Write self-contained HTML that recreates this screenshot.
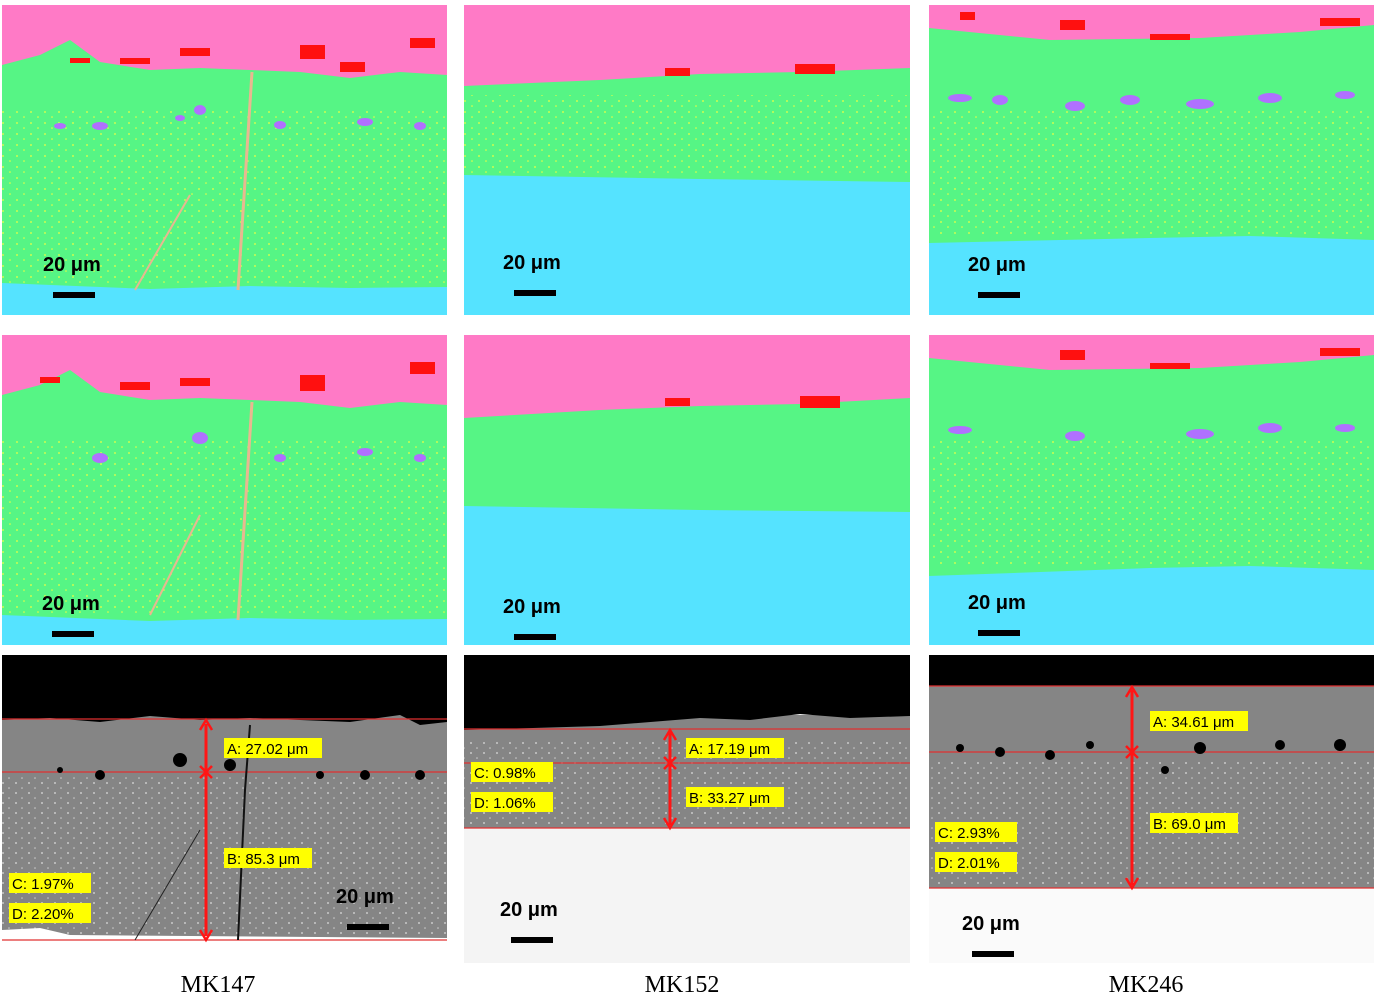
<!DOCTYPE html>
<html><head><style>
body{margin:0;background:#fff;width:1375px;height:1002px;overflow:hidden}
svg{display:block}
.sb{font-family:"Liberation Sans",sans-serif;font-weight:bold;font-size:20px;fill:#000}
.lb{font-family:"Liberation Sans",sans-serif;font-size:15px;fill:#000}
.cap{font-family:"Liberation Serif",serif;font-size:24px;fill:#000}
</style></head><body>
<svg width="1375" height="1002" viewBox="0 0 1375 1002">
<defs>
<pattern id="dots" width="14" height="11" patternUnits="userSpaceOnUse">
<circle cx="3" cy="2" r="0.9" fill="#eeff40"/><circle cx="10" cy="7" r="0.8" fill="#eeff40"/>
</pattern>
<pattern id="wd" width="13" height="10" patternUnits="userSpaceOnUse">
<circle cx="3" cy="3" r="0.9" fill="#ddd"/><circle cx="9" cy="8" r="0.8" fill="#ccc"/>
</pattern>
</defs>
<!-- Row 1 -->
<g>
<rect x="2" y="5" width="445" height="310" fill="#55e3ff"/>
<path d="M2,5H447V287L350,288L250,286L150,289L2,283Z" fill="#56f585"/>
<rect x="2" y="110" width="445" height="175" fill="url(#dots)"/>
<path d="M2,5H447V75L400,72L350,78L300,72L250,70L200,68L150,70L100,62L70,40L60,45L40,55L2,65Z" fill="#ff7ac6"/>
<path d="M252,72L238,290" stroke="#e8b890" stroke-width="3" fill="none"/>
<path d="M190,195L135,290" stroke="#e8b890" stroke-width="2" fill="none"/>
<g fill="#ff1010"><rect x="120" y="58" width="30" height="6"/><rect x="180" y="48" width="30" height="8"/><rect x="300" y="45" width="25" height="14"/><rect x="340" y="62" width="25" height="10"/><rect x="410" y="38" width="25" height="10"/><rect x="70" y="58" width="20" height="5"/></g>
<g fill="#b070ff"><ellipse cx="100" cy="126" rx="8" ry="4"/><ellipse cx="60" cy="126" rx="6" ry="3"/><ellipse cx="200" cy="110" rx="6" ry="5"/><ellipse cx="280" cy="125" rx="6" ry="4"/><ellipse cx="365" cy="122" rx="8" ry="4"/><ellipse cx="420" cy="126" rx="6" ry="4"/><ellipse cx="180" cy="118" rx="5" ry="3"/></g>
<text class="sb" x="43" y="271">20 μm</text><rect x="53" y="292" width="42" height="6" fill="#000"/>
</g>
<g>
<rect x="464" y="5" width="446" height="310" fill="#55e3ff"/>
<path d="M464,5H910V182L700,179L464,175Z" fill="#56f585"/>
<rect x="464" y="95" width="446" height="80" fill="url(#dots)"/>
<path d="M464,5H910V68L800,72L700,74L600,80L464,86Z" fill="#ff7ac6"/>
<g fill="#ff1010"><rect x="665" y="68" width="25" height="8"/><rect x="795" y="64" width="40" height="10"/></g>
<text class="sb" x="503" y="269">20 μm</text><rect x="514" y="290" width="42" height="6" fill="#000"/>
</g>
<g>
<rect x="929" y="5" width="445" height="310" fill="#55e3ff"/>
<path d="M929,5H1374V240L1250,236L1150,238L929,243Z" fill="#56f585"/>
<rect x="929" y="110" width="445" height="125" fill="url(#dots)"/>
<path d="M929,5H1374V25L1300,32L1200,38L1050,40L929,28Z" fill="#ff7ac6"/>
<g fill="#ff1010"><rect x="1060" y="20" width="25" height="10"/><rect x="1150" y="34" width="40" height="6"/><rect x="1320" y="18" width="40" height="8"/><rect x="960" y="12" width="15" height="8"/></g>
<g fill="#b070ff"><ellipse cx="960" cy="98" rx="12" ry="4"/><ellipse cx="1000" cy="100" rx="8" ry="5"/><ellipse cx="1075" cy="106" rx="10" ry="5"/><ellipse cx="1130" cy="100" rx="10" ry="5"/><ellipse cx="1200" cy="104" rx="14" ry="5"/><ellipse cx="1270" cy="98" rx="12" ry="5"/><ellipse cx="1345" cy="95" rx="10" ry="4"/></g>
<text class="sb" x="968" y="271">20 μm</text><rect x="978" y="292" width="42" height="6" fill="#000"/>
</g>
<!-- Row 2 -->
<g>
<rect x="2" y="335" width="445" height="310" fill="#55e3ff"/>
<path d="M2,335H447V619L350,620L250,618L150,621L2,615Z" fill="#56f585"/>
<rect x="2" y="440" width="445" height="175" fill="url(#dots)"/>
<path d="M2,335H447V405L400,402L350,408L300,402L250,400L200,398L150,400L100,392L70,370L60,375L40,385L2,395Z" fill="#ff7ac6"/>
<path d="M252,402L238,620" stroke="#e8b890" stroke-width="3" fill="none"/>
<path d="M200,515L150,615" stroke="#e8b890" stroke-width="2" fill="none"/>
<g fill="#ff1010"><rect x="120" y="382" width="30" height="8"/><rect x="180" y="378" width="30" height="8"/><rect x="300" y="375" width="25" height="16"/><rect x="410" y="362" width="25" height="12"/><rect x="40" y="377" width="20" height="6"/></g>
<g fill="#b070ff"><ellipse cx="100" cy="458" rx="8" ry="5"/><ellipse cx="200" cy="438" rx="8" ry="6"/><ellipse cx="280" cy="458" rx="6" ry="4"/><ellipse cx="365" cy="452" rx="8" ry="4"/><ellipse cx="420" cy="458" rx="6" ry="4"/></g>
<text class="sb" x="42" y="610">20 μm</text><rect x="52" y="631" width="42" height="6" fill="#000"/>
</g>
<g>
<rect x="464" y="335" width="446" height="310" fill="#55e3ff"/>
<path d="M464,335H910V512L700,510L464,506Z" fill="#56f585"/>
<path d="M464,335H910V398L800,404L700,406L600,410L464,418Z" fill="#ff7ac6"/>
<g fill="#ff1010"><rect x="665" y="398" width="25" height="8"/><rect x="800" y="396" width="40" height="12"/></g>
<text class="sb" x="503" y="613">20 μm</text><rect x="514" y="634" width="42" height="6" fill="#000"/>
</g>
<g>
<rect x="929" y="335" width="445" height="310" fill="#55e3ff"/>
<path d="M929,335H1374V570L1250,566L1150,568L929,576Z" fill="#56f585"/>
<rect x="929" y="440" width="445" height="125" fill="url(#dots)"/>
<path d="M929,335H1374V355L1300,362L1200,368L1050,370L929,358Z" fill="#ff7ac6"/>
<g fill="#ff1010"><rect x="1060" y="350" width="25" height="10"/><rect x="1150" y="363" width="40" height="6"/><rect x="1320" y="348" width="40" height="8"/></g>
<g fill="#b070ff"><ellipse cx="960" cy="430" rx="12" ry="4"/><ellipse cx="1075" cy="436" rx="10" ry="5"/><ellipse cx="1200" cy="434" rx="14" ry="5"/><ellipse cx="1270" cy="428" rx="12" ry="5"/><ellipse cx="1345" cy="428" rx="10" ry="4"/></g>
<text class="sb" x="968" y="609">20 μm</text><rect x="978" y="630" width="42" height="6" fill="#000"/>
</g>
<!-- Row 3 -->
<g>
<rect x="2" y="655" width="445" height="290" fill="#858585"/>
<rect x="2" y="775" width="445" height="160" fill="url(#wd)"/>
<path d="M2,655H447V722L420,725L400,715L350,722L300,720L250,718L200,720L150,716L100,722L50,718L2,720Z" fill="#000"/>
<path d="M2,930L40,928L70,935L447,938V945H2Z" fill="#fff"/>
<line x1="2" y1="719" x2="447" y2="719" stroke="#e03030" stroke-width="1.2"/>
<line x1="2" y1="772" x2="447" y2="772" stroke="#e03030" stroke-width="1.2"/>
<line x1="2" y1="940" x2="447" y2="940" stroke="#e03030" stroke-width="1.2"/>
<path d="M250,725L245,790L238,940" stroke="#111" stroke-width="2" fill="none"/>
<path d="M200,830L135,940" stroke="#222" stroke-width="1" fill="none"/>
<g fill="#000"><circle cx="100" cy="775" r="5"/><circle cx="180" cy="760" r="7"/><circle cx="230" cy="765" r="6"/><circle cx="320" cy="775" r="4"/><circle cx="365" cy="775" r="5"/><circle cx="420" cy="775" r="5"/><circle cx="60" cy="770" r="3"/></g>
<line x1="206" y1="724" x2="206" y2="936" stroke="#ff1515" stroke-width="3"/>
<path d="M200,730L206,720L212,730M200,930L206,940L212,930M200,766L212,778M212,766L200,778" stroke="#ff1515" stroke-width="2.5" fill="none"/>
<rect x="224" y="738" width="98" height="20" fill="#ffff00"/><text class="lb" x="227" y="754">A: 27.02 μm</text>
<rect x="224" y="848" width="88" height="20" fill="#ffff00"/><text class="lb" x="227" y="864">B: 85.3 μm</text>
<rect x="9" y="873" width="82" height="20" fill="#ffff00"/><text class="lb" x="12" y="889">C: 1.97%</text>
<rect x="9" y="903" width="82" height="20" fill="#ffff00"/><text class="lb" x="12" y="919">D: 2.20%</text>
<text class="sb" x="336" y="903">20 μm</text><rect x="347" y="924" width="42" height="6" fill="#000"/>
</g>
<g>
<rect x="464" y="655" width="446" height="308" fill="#f4f4f4"/>
<rect x="464" y="715" width="446" height="113" fill="#858585"/>
<rect x="464" y="740" width="446" height="86" fill="url(#wd)"/>
<path d="M464,655H910V716L850,718L800,714L750,720L700,718L600,726L464,730Z" fill="#000"/>
<line x1="464" y1="729" x2="910" y2="729" stroke="#e03030" stroke-width="1.2"/>
<line x1="464" y1="763" x2="910" y2="763" stroke="#e03030" stroke-width="1.2"/>
<line x1="464" y1="828" x2="910" y2="828" stroke="#e03030" stroke-width="1.2"/>
<line x1="670" y1="732" x2="670" y2="825" stroke="#ff1515" stroke-width="3"/>
<path d="M664,740L670,730L676,740M664,818L670,828L676,818M664,757L676,769M676,757L664,769" stroke="#ff1515" stroke-width="2.5" fill="none"/>
<rect x="686" y="738" width="98" height="20" fill="#ffff00"/><text class="lb" x="689" y="754">A: 17.19 μm</text>
<rect x="686" y="787" width="98" height="20" fill="#ffff00"/><text class="lb" x="689" y="803">B: 33.27 μm</text>
<rect x="471" y="762" width="82" height="20" fill="#ffff00"/><text class="lb" x="474" y="778">C: 0.98%</text>
<rect x="471" y="792" width="82" height="20" fill="#ffff00"/><text class="lb" x="474" y="808">D: 1.06%</text>
<text class="sb" x="500" y="916">20 μm</text><rect x="511" y="937" width="42" height="6" fill="#000"/>
</g>
<g>
<rect x="929" y="655" width="445" height="308" fill="#fafafa"/>
<rect x="929" y="680" width="445" height="208" fill="#858585"/>
<rect x="929" y="760" width="445" height="126" fill="url(#wd)"/>
<path d="M929,655H1374V686H929Z" fill="#000"/>
<line x1="929" y1="686" x2="1374" y2="686" stroke="#e03030" stroke-width="1.2"/>
<line x1="929" y1="752" x2="1374" y2="752" stroke="#e03030" stroke-width="1.2"/>
<line x1="929" y1="888" x2="1374" y2="888" stroke="#e03030" stroke-width="1.2"/>
<g fill="#000"><circle cx="960" cy="748" r="4"/><circle cx="1000" cy="752" r="5"/><circle cx="1050" cy="755" r="5"/><circle cx="1090" cy="745" r="4"/><circle cx="1200" cy="748" r="6"/><circle cx="1280" cy="745" r="5"/><circle cx="1340" cy="745" r="6"/><circle cx="1165" cy="770" r="4"/></g>
<line x1="1132" y1="690" x2="1132" y2="885" stroke="#ff1515" stroke-width="3"/>
<path d="M1126,697L1132,687L1138,697M1126,878L1132,888L1138,878M1126,746L1138,758M1138,746L1126,758" stroke="#ff1515" stroke-width="2.5" fill="none"/>
<rect x="1150" y="711" width="98" height="20" fill="#ffff00"/><text class="lb" x="1153" y="727">A: 34.61 μm</text>
<rect x="1150" y="813" width="88" height="20" fill="#ffff00"/><text class="lb" x="1153" y="829">B: 69.0 μm</text>
<rect x="935" y="822" width="82" height="20" fill="#ffff00"/><text class="lb" x="938" y="838">C: 2.93%</text>
<rect x="935" y="852" width="82" height="20" fill="#ffff00"/><text class="lb" x="938" y="868">D: 2.01%</text>
<text class="sb" x="962" y="930">20 μm</text><rect x="972" y="951" width="42" height="6" fill="#000"/>
</g>
<text class="cap" x="218" y="992" text-anchor="middle">MK147</text>
<text class="cap" x="682" y="992" text-anchor="middle">MK152</text>
<text class="cap" x="1146" y="992" text-anchor="middle">MK246</text>
</svg>
</body></html>
